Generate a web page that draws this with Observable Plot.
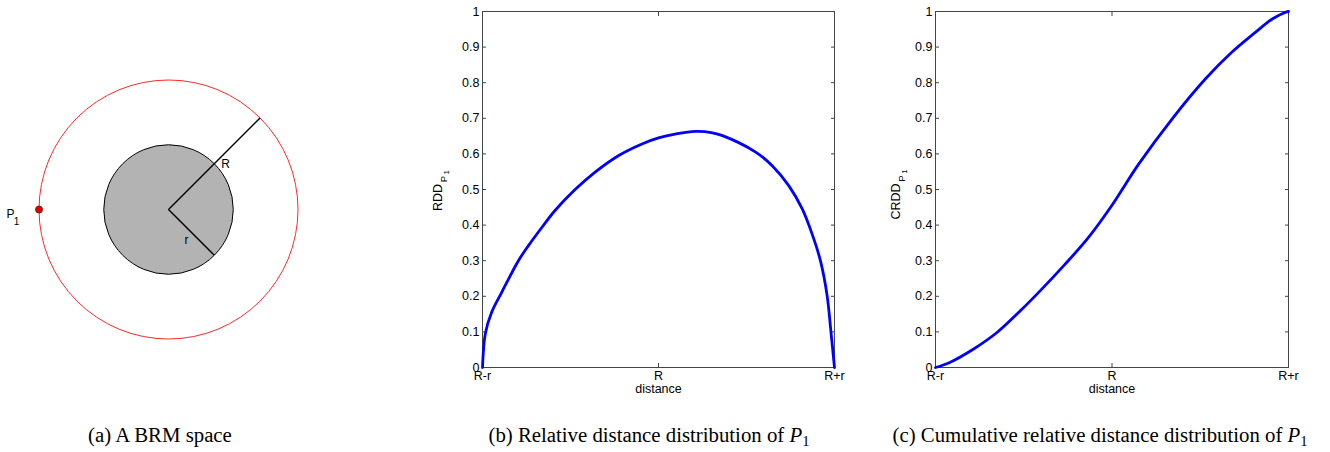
<!DOCTYPE html>
<html>
<head>
<meta charset="utf-8">
<script src="https://cdn.jsdelivr.net/npm/d3@7"></script>
<script src="https://cdn.jsdelivr.net/npm/@observablehq/plot@0.6"></script>
<style>
  html, body { margin: 0; padding: 0; background: #fff; }
  #wrap { position: relative; width: 1330px; height: 452px; overflow: hidden; background: #fff; }
  .panel { position: absolute; top: 0; }
  .cap { position: absolute; top: 423px; font-family: "Liberation Serif", "Times New Roman", serif; font-size: 20.8px; color: #000; text-align: center; white-space: nowrap; }
  .cap sub { font-size: 0.7em; vertical-align: -0.3em; line-height: 0; }
</style>
</head>
<body>
<div id="wrap"></div>
<script>
// ---- data ----
// BRM space geometry (units)
const bigR = 2;          // distance of P1 from centre (outer circle radius)
const smallR = 1;        // radius of the gray disk
const p1 = [{x: -2, y: 0}];

// Relative distance distribution (distance from R-r=1 to R+r=3)
const rddDist = [1, 1.016, 1.052, 1.11, 1.204, 1.262, 1.338, 1.412, 1.526, 1.64, 1.772, 1.906, 2.0, 2.1, 2.21, 2.3, 2.36, 2.552, 2.646, 2.74, 2.816, 2.872, 2.92, 2.958, 2.98, 3];
const rddVal  = [0, 0.095, 0.155, 0.212, 0.30, 0.343, 0.394, 0.441, 0.50, 0.549, 0.595, 0.628, 0.645, 0.656, 0.663, 0.660, 0.652, 0.605, 0.567, 0.511, 0.446, 0.376, 0.30, 0.202, 0.099, 0];

// Cumulative relative distance distribution
const crddDist = [1, 1.084, 1.216, 1.35, 1.482, 1.594, 1.728, 1.86, 1.992, 2.152, 2.34, 2.53, 2.68, 2.814, 2.908, 2.984, 3];
const crddVal  = [0, 0.015, 0.052, 0.099, 0.16, 0.216, 0.287, 0.361, 0.45, 0.572, 0.698, 0.811, 0.886, 0.942, 0.979, 0.998, 1];

const yTicks = [0, 0.1, 0.2, 0.3, 0.4, 0.5, 0.6, 0.7, 0.8, 0.9, 1];
const xTickPos = [1, 2, 3];
const xTickLabels = ["R-r", "R", "R+r"];
const xLabel = "distance";

const captions = [
  {html: "(a) A BRM space", cx: 160},
  {html: "(b) Relative distance distribution of <i>P</i><sub>1</sub>", cx: 649},
  {html: "(c) Cumulative relative distance distribution of <i>P</i><sub>1</sub>", cx: 1100}
];

// ---- layout ----
const wrap = document.getElementById("wrap");
const sans = "'Liberation Sans', Arial, Helvetica, sans-serif";
const axisColor = "#444";

// Panel (a)
{
  const W = 330, H = 410, cx = 168, cy = 209, k = 64.75; // pixels per unit
  const fig = Plot.plot({
    width: W, height: H, margin: 0,
    x: {domain: [-cx / k, (W - cx) / k], axis: null},
    y: {domain: [-(H - cy) / k, cy / k], axis: null},
    style: {fontFamily: sans, fontSize: "11px", background: "transparent", overflow: "visible"},
    marks: [
      Plot.dot([{x: 0, y: 0}], {x: "x", y: "y", r: bigR * k, fill: "none", stroke: "#ff2a2a", strokeWidth: 1}),
      Plot.dot([{x: 0, y: 0}], {x: "x", y: "y", r: smallR * k, fill: "#b3b3b3", stroke: "#000", strokeWidth: 1}),
      Plot.link([{x1: 0, y1: 0, x2: bigR * Math.SQRT1_2, y2: bigR * Math.SQRT1_2}],
        {x1: "x1", y1: "y1", x2: "x2", y2: "y2", stroke: "#000", strokeWidth: 1.5}),
      Plot.link([{x1: 0, y1: 0, x2: smallR * Math.SQRT1_2, y2: -smallR * Math.SQRT1_2}],
        {x1: "x1", y1: "y1", x2: "x2", y2: "y2", stroke: "#000", strokeWidth: 1.5}),
      Plot.dot(p1, {x: "x", y: "y", r: 3.5, fill: "#e00000", stroke: "#800000", strokeWidth: 0.8}),
      Plot.text(p1, {x: "x", y: "y", text: () => "P", dx: -28.5, dy: 5, fontSize: 12, fill: "#000"}),
      Plot.text(p1, {x: "x", y: "y", text: () => "1", dx: -22.5, dy: 12, fontSize: 10, fill: "#000"}),
      Plot.text([{x: 0.88, y: 0.695, t: "R"}], {x: "x", y: "y", text: "t", fontSize: 12, fill: "#000"}),
      Plot.text([{x: 0.278, y: -0.479, t: "r"}], {x: "x", y: "y", text: "t", fontSize: 12, fill: "#000"})
    ]
  });
  fig.classList.add("panel");
  fig.style.left = "0px";
  wrap.appendChild(fig);
}

function curvePanel(dist, vals, ylab, left, ml, mr, labDx, labDy) {
  const data = dist.map((d, i) => ({d, v: vals[i]}));
  const half = ylab.length * 4.6;
  const fig = Plot.plot({
    width: 440, height: 410, marginLeft: ml, marginRight: mr, marginTop: 11, marginBottom: 43,
    x: {domain: [1, 3]},
    y: {domain: [0, 1]},
    style: {fontFamily: sans, fontSize: "12.5px", color: "#000", background: "transparent", overflow: "visible"},
    marks: [
      Plot.axisY(yTicks, {anchor: "left", tickSize: -4, tickFormat: () => "", stroke: axisColor, label: null}),
      Plot.axisY(yTicks, {anchor: "right", tickSize: -4, tickFormat: () => "", stroke: axisColor, label: null}),
      Plot.axisX(xTickPos, {anchor: "bottom", tickSize: -4, tickFormat: () => "", stroke: axisColor, label: null}),
      Plot.axisX(xTickPos, {anchor: "top", tickSize: -4, tickFormat: () => "", stroke: axisColor, label: null}),
      Plot.axisY(yTicks, {anchor: "left", tickSize: 0, tickPadding: 3, tickFormat: d => String(d), fill: "#000", label: null}),
      Plot.axisX(xTickPos, {anchor: "bottom", tickSize: 0, tickPadding: 4, tickFormat: d => xTickLabels[xTickPos.indexOf(d)], fill: "#000", label: null}),
      Plot.frame({stroke: axisColor, strokeWidth: 1}),
      Plot.line(data, {x: "d", y: "v", stroke: "#0000ff", strokeWidth: 2.8, curve: "catmull-rom"}),
      Plot.text([xLabel], {frameAnchor: "bottom", dy: 25, fontSize: 12.5, fill: "#000", textAnchor: "middle"}),
      Plot.text([ylab], {frameAnchor: "left", dx: labDx, dy: labDy, rotate: -90, fontSize: 12.5, fill: "#000", textAnchor: "middle"}),
      Plot.text(["P"], {frameAnchor: "left", dx: labDx + 6, dy: labDy - half - 4.5, rotate: -90, fontSize: 9.5, fill: "#000", textAnchor: "middle"}),
      Plot.text(["1"], {frameAnchor: "left", dx: labDx + 9, dy: labDy - half - 11.5, rotate: -90, fontSize: 8, fill: "#000", textAnchor: "middle"})
    ]
  });
  fig.classList.add("panel");
  fig.style.left = left + "px";
  wrap.appendChild(fig);
}

curvePanel(rddDist, rddVal, "RDD", 420, 62, 26, -45, 8);
curvePanel(crddDist, crddVal, "CRDD", 880, 55, 32, -40, 12);

for (const c of captions) {
  const div = document.createElement("div");
  div.className = "cap";
  div.innerHTML = c.html;
  wrap.appendChild(div);
  div.style.left = (c.cx - div.offsetWidth / 2) + "px";
}
</script>
</body>
</html>
